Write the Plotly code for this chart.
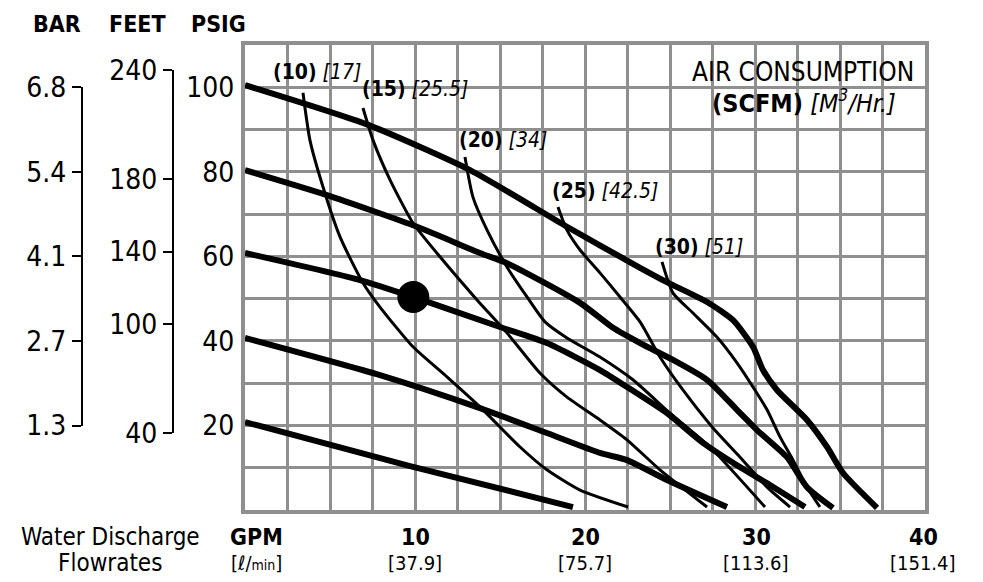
import numpy as np
import plotly.graph_objects as go

# ---------------- data ----------------
# Constant inlet-air-pressure curves (PSIG): flow in GPM, head in PSIG
P100_GPM = [0, 7.24, 13.24, 18.94, 23.24, 24.82, 27.18, 28.71, 29.88, 30.47, 31.29, 33.06, 34.24, 35.18, 37.18]
P100_PSI = [100.5, 91.1, 80.4, 67.0, 57.3, 53.9, 49.2, 44.9, 38.6, 33.1, 28.4, 21.3, 14.9, 8.75, 0.5]

P80_GPM = [0, 4.82, 10.12, 13.82, 15.41, 19.71, 21.65, 23.24, 25.18, 27.18, 28.94, 30.12, 31.88, 33.06, 34.59]
P80_PSI = [80.4, 74.5, 67.0, 60.8, 58.4, 49.0, 43.1, 39.5, 35.5, 30.8, 23.7, 18.9, 12.5, 5.4, 0.5]

P60_GPM = [0, 6.76, 9.88, 15.0, 17.76, 20.88, 22.47, 24.82, 26.94, 28.94, 30.88, 32.94]
P60_PSI = [60.8, 54.4, 50.4, 43.3, 39.5, 33.1, 29.1, 22.9, 15.9, 10.6, 5.9, 0.7]

P40_GPM = [0, 7.94, 13.82, 17.76, 20.88, 22.47, 24.82, 28.35]
P40_PSI = [40.7, 31.9, 24.1, 18.2, 13.5, 11.8, 7.1, 0.7]

P20_GPM = [0, 9.71, 19.29]
P20_PSI = [20.8, 10.4, 0.7]

# Constant air-consumption curves (SCFM)
A10_GPM = [3.41, 3.82, 4.59, 5.59, 6.94, 7.94, 9.88, 11.88, 13.82, 16.18, 17.76, 19.71, 22.53]
A10_PSI = [98.7, 87.5, 76.4, 64.6, 53.7, 48.0, 38.6, 31.5, 24.4, 14.9, 9.5, 4.7, 0.7]

A15_GPM = [6.94, 7.53, 8.53, 9.88, 11.47, 13.65, 15.41, 17.35, 18.94, 20.88, 22.47, 24.41, 27.18]
A15_PSI = [95.1, 87.5, 78.1, 67.9, 59.9, 49.7, 41.9, 32.4, 26.7, 21.3, 16.6, 9.5, 0.7]

A20_GPM = [12.94, 13.41, 14.24, 15.41, 16.59, 17.65, 18.94, 20.88, 22.82, 25.0, 27.35, 30.59]
A20_PSI = [83.5, 74.0, 66.2, 57.5, 50.4, 44.5, 40.7, 36.2, 30.8, 22.9, 14.9, 0.7]

A25_GPM = [18.41, 18.94, 19.71, 20.88, 22.06, 23.24, 24.41, 25.76, 27.53, 29.12, 30.71, 32.06]
A25_PSI = [71.7, 66.2, 61.5, 56.1, 50.4, 44.5, 36.2, 28.4, 19.4, 12.5, 5.4, 0.7]

A30_GPM = [24.53, 25.18, 26.35, 27.76, 28.94, 29.88, 30.71, 31.47, 32.24, 33.06, 33.82]
A30_PSI = [58.7, 51.3, 46.6, 40.9, 34.8, 29.1, 23.7, 17.3, 11.8, 5.4, 0.7]

# Air curve labels: (SCFM) [M3/Hr]
AIR_SCFM = ["10", "15", "20", "25", "30"]
AIR_M3HR = ["17", "25.5", "34", "42.5", "51"]
AIR_LABEL_GPM = [1.53, 6.76, 12.47, 17.94, 24.0]
AIR_LABEL_PSI = [103.6, 99.6, 87.5, 75.5, 62.2]

# Operating point
POINT_GPM = [9.9]
POINT_PSI = [50.4]

# Axis ticks
PSIG_TICKS = [100, 80, 60, 40, 20]
PSIG_LABELS = ["100", "80", "60", "40", "20"]
BAR_LABELS = ["6.8", "5.4", "4.1", "2.7", "1.3"]
FEET_TICKS = [240, 180, 140, 100, 40]
FEET_LABELS = ["240", "180", "140", "100", "40"]
GPM_TICKS = [0, 10, 20, 30, 40]
GPM_LABELS = ["GPM", "10", "20", "30", "40"]
LPM_LABELS = ["[ℓ/<span style='font-size:14px'>min</span>]", "[37.9]", "[75.7]", "[113.6]", "[151.4]"]

# ---------------- styling ----------------
FONT = "Liberation Sans Narrow, Arial Narrow, Noto Sans Condensed, DejaVu Sans Condensed, sans-serif"
GRID = "#8f8f8f"
W, H = 983, 582
ML, MR, MT, MB = 0, 58, 45, 72
PW, PH = W - ML - MR, H - MT - MB


def px_x(px):
    return (px - ML) / PW


def px_y(py):
    return (H - MB - py) / PH


fig = go.Figure()

pressure = [(P100_GPM, P100_PSI), (P80_GPM, P80_PSI), (P60_GPM, P60_PSI),
            (P40_GPM, P40_PSI), (P20_GPM, P20_PSI)]
air = [(A10_GPM, A10_PSI), (A15_GPM, A15_PSI), (A20_GPM, A20_PSI),
       (A25_GPM, A25_PSI), (A30_GPM, A30_PSI)]

for gx, gy in air:
    fig.add_trace(go.Scatter(x=gx, y=gy, mode="lines",
                             line=dict(color="black", width=3, shape="spline", smoothing=0.6),
                             hoverinfo="skip", showlegend=False))
for gx, gy in pressure:
    fig.add_trace(go.Scatter(x=gx, y=gy, mode="lines",
                             line=dict(color="black", width=6, shape="spline", smoothing=0.6),
                             hoverinfo="skip", showlegend=False))

fig.add_trace(go.Scatter(x=POINT_GPM, y=POINT_PSI, mode="markers",
                         marker=dict(color="black", size=32),
                         hoverinfo="skip", showlegend=False))

# invisible traces that activate the BAR and FEET scales (on a hidden x axis at the left)
fig.add_trace(go.Scatter(x=[None], y=[None], xaxis="x2", yaxis="y2", showlegend=False, hoverinfo="skip"))
fig.add_trace(go.Scatter(x=[None], y=[None], xaxis="x2", yaxis="y3", showlegend=False, hoverinfo="skip"))

psi_vals = list(range(0, 111, 10))
psi_text = [PSIG_LABELS[PSIG_TICKS.index(v)] if v in PSIG_TICKS else "" for v in psi_vals]
gpm_vals = list(np.arange(0, 40.01, 2.5))

x0 = px_x(245)
fig.update_layout(
    width=W, height=H,
    margin=dict(l=ML, r=MR, t=MT, b=MB, autoexpand=False),
    paper_bgcolor="white", plot_bgcolor="rgba(0,0,0,0)",
    font=dict(family=FONT, color="black"),
    xaxis=dict(domain=[x0, 1], range=[0, 40], tickmode="array", tickvals=gpm_vals,
               ticktext=[""] * len(gpm_vals), showgrid=True, gridcolor=GRID, gridwidth=3,
               zeroline=False, showline=True, mirror=True, linecolor=GRID, linewidth=4,
               ticks="", automargin=False),
    yaxis=dict(range=[0, 110], tickmode="array", tickvals=psi_vals, ticktext=psi_text,
               showgrid=True, gridcolor=GRID, gridwidth=3, zeroline=False,
               showline=True, mirror=True, linecolor=GRID, linewidth=4,
               ticks="", ticklabelstandoff=1, tickfont=dict(size=28, family=FONT),
               automargin=False),
    xaxis2=dict(domain=[0, px_x(40)], range=[0, 1], visible=False, anchor="y2"),
    yaxis2=dict(anchor="free", position=px_x(82), side="left",
                domain=[px_y(425.5), px_y(87.3)], range=[20, 100],
                tickmode="array", tickvals=PSIG_TICKS, ticktext=BAR_LABELS,
                showgrid=False, zeroline=False, showline=True, linecolor="black", linewidth=2,
                ticks="outside", ticklen=9, tickwidth=2, tickcolor="black",
                tickfont=dict(size=28, family=FONT), automargin=False),
    yaxis3=dict(anchor="free", position=px_x(173), side="left",
                domain=[px_y(433), px_y(70)], range=[40, 240],
                tickmode="array", tickvals=FEET_TICKS, ticktext=FEET_LABELS,
                showgrid=False, zeroline=False, showline=True, linecolor="black", linewidth=2,
                ticks="outside", ticklen=9, tickwidth=2, tickcolor="black",
                tickfont=dict(size=28, family=FONT), automargin=False),
)

ann = []
# headings of the pressure scales
for txt, cx in [("BAR", 57), ("FEET", 137), ("PSIG", 218)]:
    ann.append(dict(x=px_x(cx), y=px_y(24), xref="paper", yref="paper", text="<b>" + txt + "</b>",
                    showarrow=False, font=dict(size=23, family=FONT), xanchor="center", yanchor="middle"))

# air consumption curve labels
for s, m, gx, gy in zip(AIR_SCFM, AIR_M3HR, AIR_LABEL_GPM, AIR_LABEL_PSI):
    ann.append(dict(x=gx, y=gy, xref="x", yref="y", text="<b>(" + s + ")</b> <i>[" + m + "]</i>",
                    showarrow=False, font=dict(size=21, family=FONT), xanchor="left", yanchor="middle"))

ann.append(dict(x=px_x(803), y=px_y(72), xref="paper", yref="paper", text="AIR CONSUMPTION",
                showarrow=False, font=dict(size=26, family=FONT), xanchor="center", yanchor="middle"))
ann.append(dict(x=px_x(804), y=px_y(101), xref="paper", yref="paper",
                text="<b>(SCFM)</b> <i>[M<sup>3</sup>/Hr.]</i>",
                showarrow=False, font=dict(size=25, family=FONT), xanchor="center", yanchor="middle"))

# flow axis labels
shifts = [11, 0, 0, 1, -2]
for v, t1, t2, sh in zip(GPM_TICKS, GPM_LABELS, LPM_LABELS, shifts):
    ann.append(dict(x=v, y=px_y(537), xref="x", yref="paper", text="<b>" + t1 + "</b>", xshift=sh,
                    showarrow=False, font=dict(size=23, family=FONT), xanchor="center", yanchor="middle"))
    ann.append(dict(x=v, y=px_y(563), xref="x", yref="paper", text=t2, xshift=sh,
                    showarrow=False, font=dict(size=20, family=FONT), xanchor="center", yanchor="middle"))

ann.append(dict(x=px_x(110), y=px_y(537), xref="paper", yref="paper", text="Water Discharge",
                showarrow=False, font=dict(size=24, family=FONT), xanchor="center", yanchor="middle"))
ann.append(dict(x=px_x(110), y=px_y(563), xref="paper", yref="paper", text="Flowrates",
                showarrow=False, font=dict(size=24, family=FONT), xanchor="center", yanchor="middle"))

fig.update_layout(annotations=ann)
fig.write_html("out.html", config={"displayModeBar": False},
               post_script="document.body.style.margin='0';document.body.style.overflow='hidden';")
